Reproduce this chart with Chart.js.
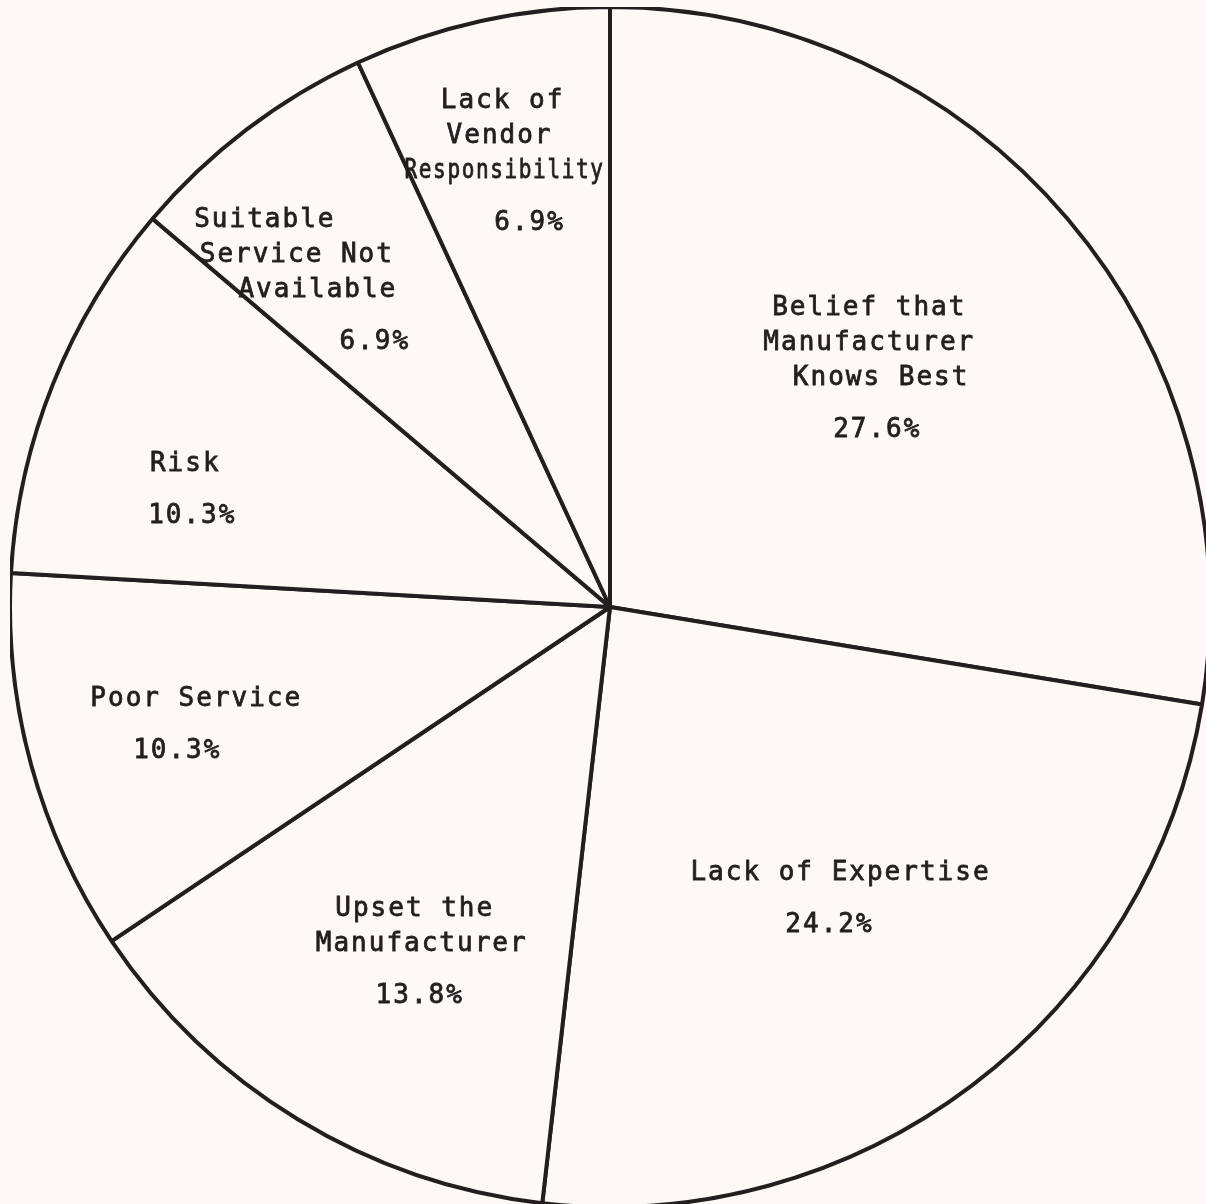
<!DOCTYPE html>
<html>
<head>
<meta charset="utf-8">
<script src="https://cdn.jsdelivr.net/npm/chart.js@4.4.1/dist/chart.umd.min.js"></script>
<style>
    html, body {
        margin: 0;
        padding: 0;
        overflow: hidden;
        background: #fdfaf6;
        width: 1206px;
        height: 1204px;
    }
    #wrap {
        position: absolute;
        left: 10px;
        top: 7px;
        width: 1200px;
        height: 1200px;
    }
</style>
</head>
<body>
<div id="wrap"><canvas id="pie"></canvas></div>
<script>
// reasons, clockwise from 12 o'clock
const categories = [
    ['Belief that', 'Manufacturer', ' Knows Best'],
    ['Lack of Expertise'],
    ['Upset the', 'Manufacturer'],
    ['Poor Service'],
    ['Risk'],
    ['Suitable', 'Service Not', 'Available'],
    ['Lack of', 'Vendor', 'Responsibility']
];
const shares = [27.6, 24.2, 13.8, 10.3, 10.3, 6.9, 6.9];

// where each label block sits: fraction of radius along the slice middle,
// a nudge in px, and per-line x shifts (last one is the percent line)
const labelPlace = [
    { r: 0.593, dx: -9, dy: -10, shift: [-3, -3, 0, 5] },
    { r: 0.615, dx: 5, dy: -4, shift: [3, -8] },
    { r: 0.655, dx: 13, dy: 8, shift: [-4, 3, 1] },
    { r: 0.727, dx: 0, dy: 1, shift: [7, -12] },
    { r: 0.730, dx: -15, dy: 44, shift: [-3, 4] },
    { r: 0.752, dx: -37, dy: 31, shift: [-35, -3, 18, 75] },
    { r: 0.763, dx: -2, dy: 0, shift: [-7, -10, -5, 20], maxW: 200 }
];

const ink = '#231f20';
const lineGap = 35;
const pctGap = 52;

const sliceLabels = {
    id: 'sliceLabels',
    afterDatasetsDraw(chart) {
        const ctx = chart.ctx;
        const arcs = chart.getDatasetMeta(0).data;
        ctx.save();
        ctx.fillStyle = ink;
        ctx.strokeStyle = ink;
        ctx.lineWidth = 0.8;
        ctx.font = '26px "DejaVu Sans Mono"';
        ctx.letterSpacing = '2px';
        ctx.textAlign = 'center';
        ctx.textBaseline = 'alphabetic';
        const put = function (txt, x, y, w) {
            ctx.fillText(txt, x, y, w);
            ctx.strokeText(txt, x, y, w);
        };
        arcs.forEach(function (arc, i) {
            const p = labelPlace[i];
            const mid = (arc.startAngle + arc.endAngle) / 2;
            const rr = arc.outerRadius * p.r;
            const cx = arc.x + Math.cos(mid) * rr + p.dx;
            const cy = arc.y + Math.sin(mid) * rr + p.dy;
            const lines = categories[i];
            const h = (lines.length - 1) * lineGap + pctGap;
            let y = cy - h / 2;
            lines.forEach(function (txt, j) {
                put(txt, cx + p.shift[j], y + 9, p.maxW);
                y += lineGap;
            });
            y += pctGap - lineGap;
            put(shares[i].toFixed(1) + '%', cx + p.shift[lines.length], y + 9);
        });
        ctx.restore();
    }
};

new Chart(document.getElementById('pie'), {
    type: 'pie',
    data: {
        labels: categories,
        datasets: [{
            data: shares,
            backgroundColor: '#fdfaf6',
            borderColor: ink,
            borderWidth: 4,
            clip: false
        }]
    },
    options: {
        responsive: true,
        maintainAspectRatio: false,
        animation: false,
        events: [],
        radius: 600,
        layout: { padding: 0 },
        plugins: {
            legend: { display: false },
            tooltip: { enabled: false }
        }
    },
    plugins: [sliceLabels]
});
</script>
</body>
</html>
